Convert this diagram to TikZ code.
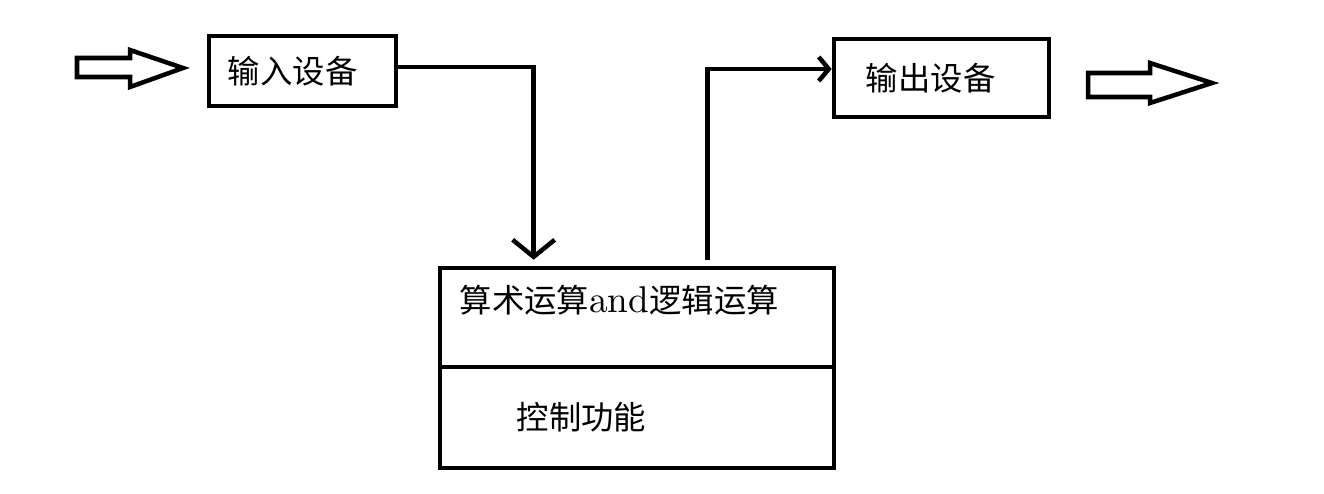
\documentclass[tikz,border=0pt]{standalone}
\usepackage{fontspec}
\newfontfamily\cjk{Noto Sans CJK SC}
\usetikzlibrary{positioning,calc,arrows.meta}

\begin{document}
\begin{tikzpicture}[x=0.01cm, y=-0.01cm,
    box/.style={draw, line width=0.045cm, inner ysep=0pt, align=left,
        font=\fontsize{9.2pt}{11pt}\selectfont\cjk},
    wire/.style={line width=0.045cm},
    bigtip/.style={-{Straight Barb[length=0.17cm, width=0.42cm]}},
    smalltip/.style={-{Straight Barb[length=0.1cm, width=0.24cm]}}]

    \useasboundingbox (0,0) rectangle (1324,494);

    \node[box, minimum width=1.87cm, minimum height=0.70cm, inner xsep=0.19cm, text width=1.49cm]
        (inbox) at (302.5,71) {输入设备};
    \node[box, minimum width=2.15cm, minimum height=0.78cm, inner xsep=0.32cm, text width=1.51cm]
        (outbox) at (941.5,78) {输出设备};
    \node[box, minimum width=3.94cm, minimum height=0.99cm, inner xsep=0.2cm, text width=3.54cm,
        text height=0.45cm, text depth=0.54cm]
        (alu) at (637,317.5) {算术运算{\fontsize{10.6pt}{11pt}\rmfamily and}逻辑运算};
    \node[box, minimum width=3.94cm, minimum height=1.01cm, inner xsep=0.77cm, text width=2.4cm]
        (ctrl) at (637,417.5) {控制功能};

    \coordinate (drop) at ($(alu.north west)+(96,-6)$);
    \coordinate (rise) at ($(alu.north west)+(270,-6)$);

    \draw[wire, bigtip] ([yshift=0.04cm]inbox.east) -| (drop);
    \draw[wire, smalltip] (rise) |- ([yshift=0.09cm]outbox.west);

    \draw[wire, line join=miter] (77,58) -- (130,58) -- (130,50) -- (183,68)
        -- (130,87) -- (130,77) -- (77,77) -- cycle;
    \draw[wire, line join=miter] (1088,73) -- (1150,73) -- (1150,63) -- (1212,83)
        -- (1150,103) -- (1150,97) -- (1088,97) -- cycle;
\end{tikzpicture}
\end{document}
